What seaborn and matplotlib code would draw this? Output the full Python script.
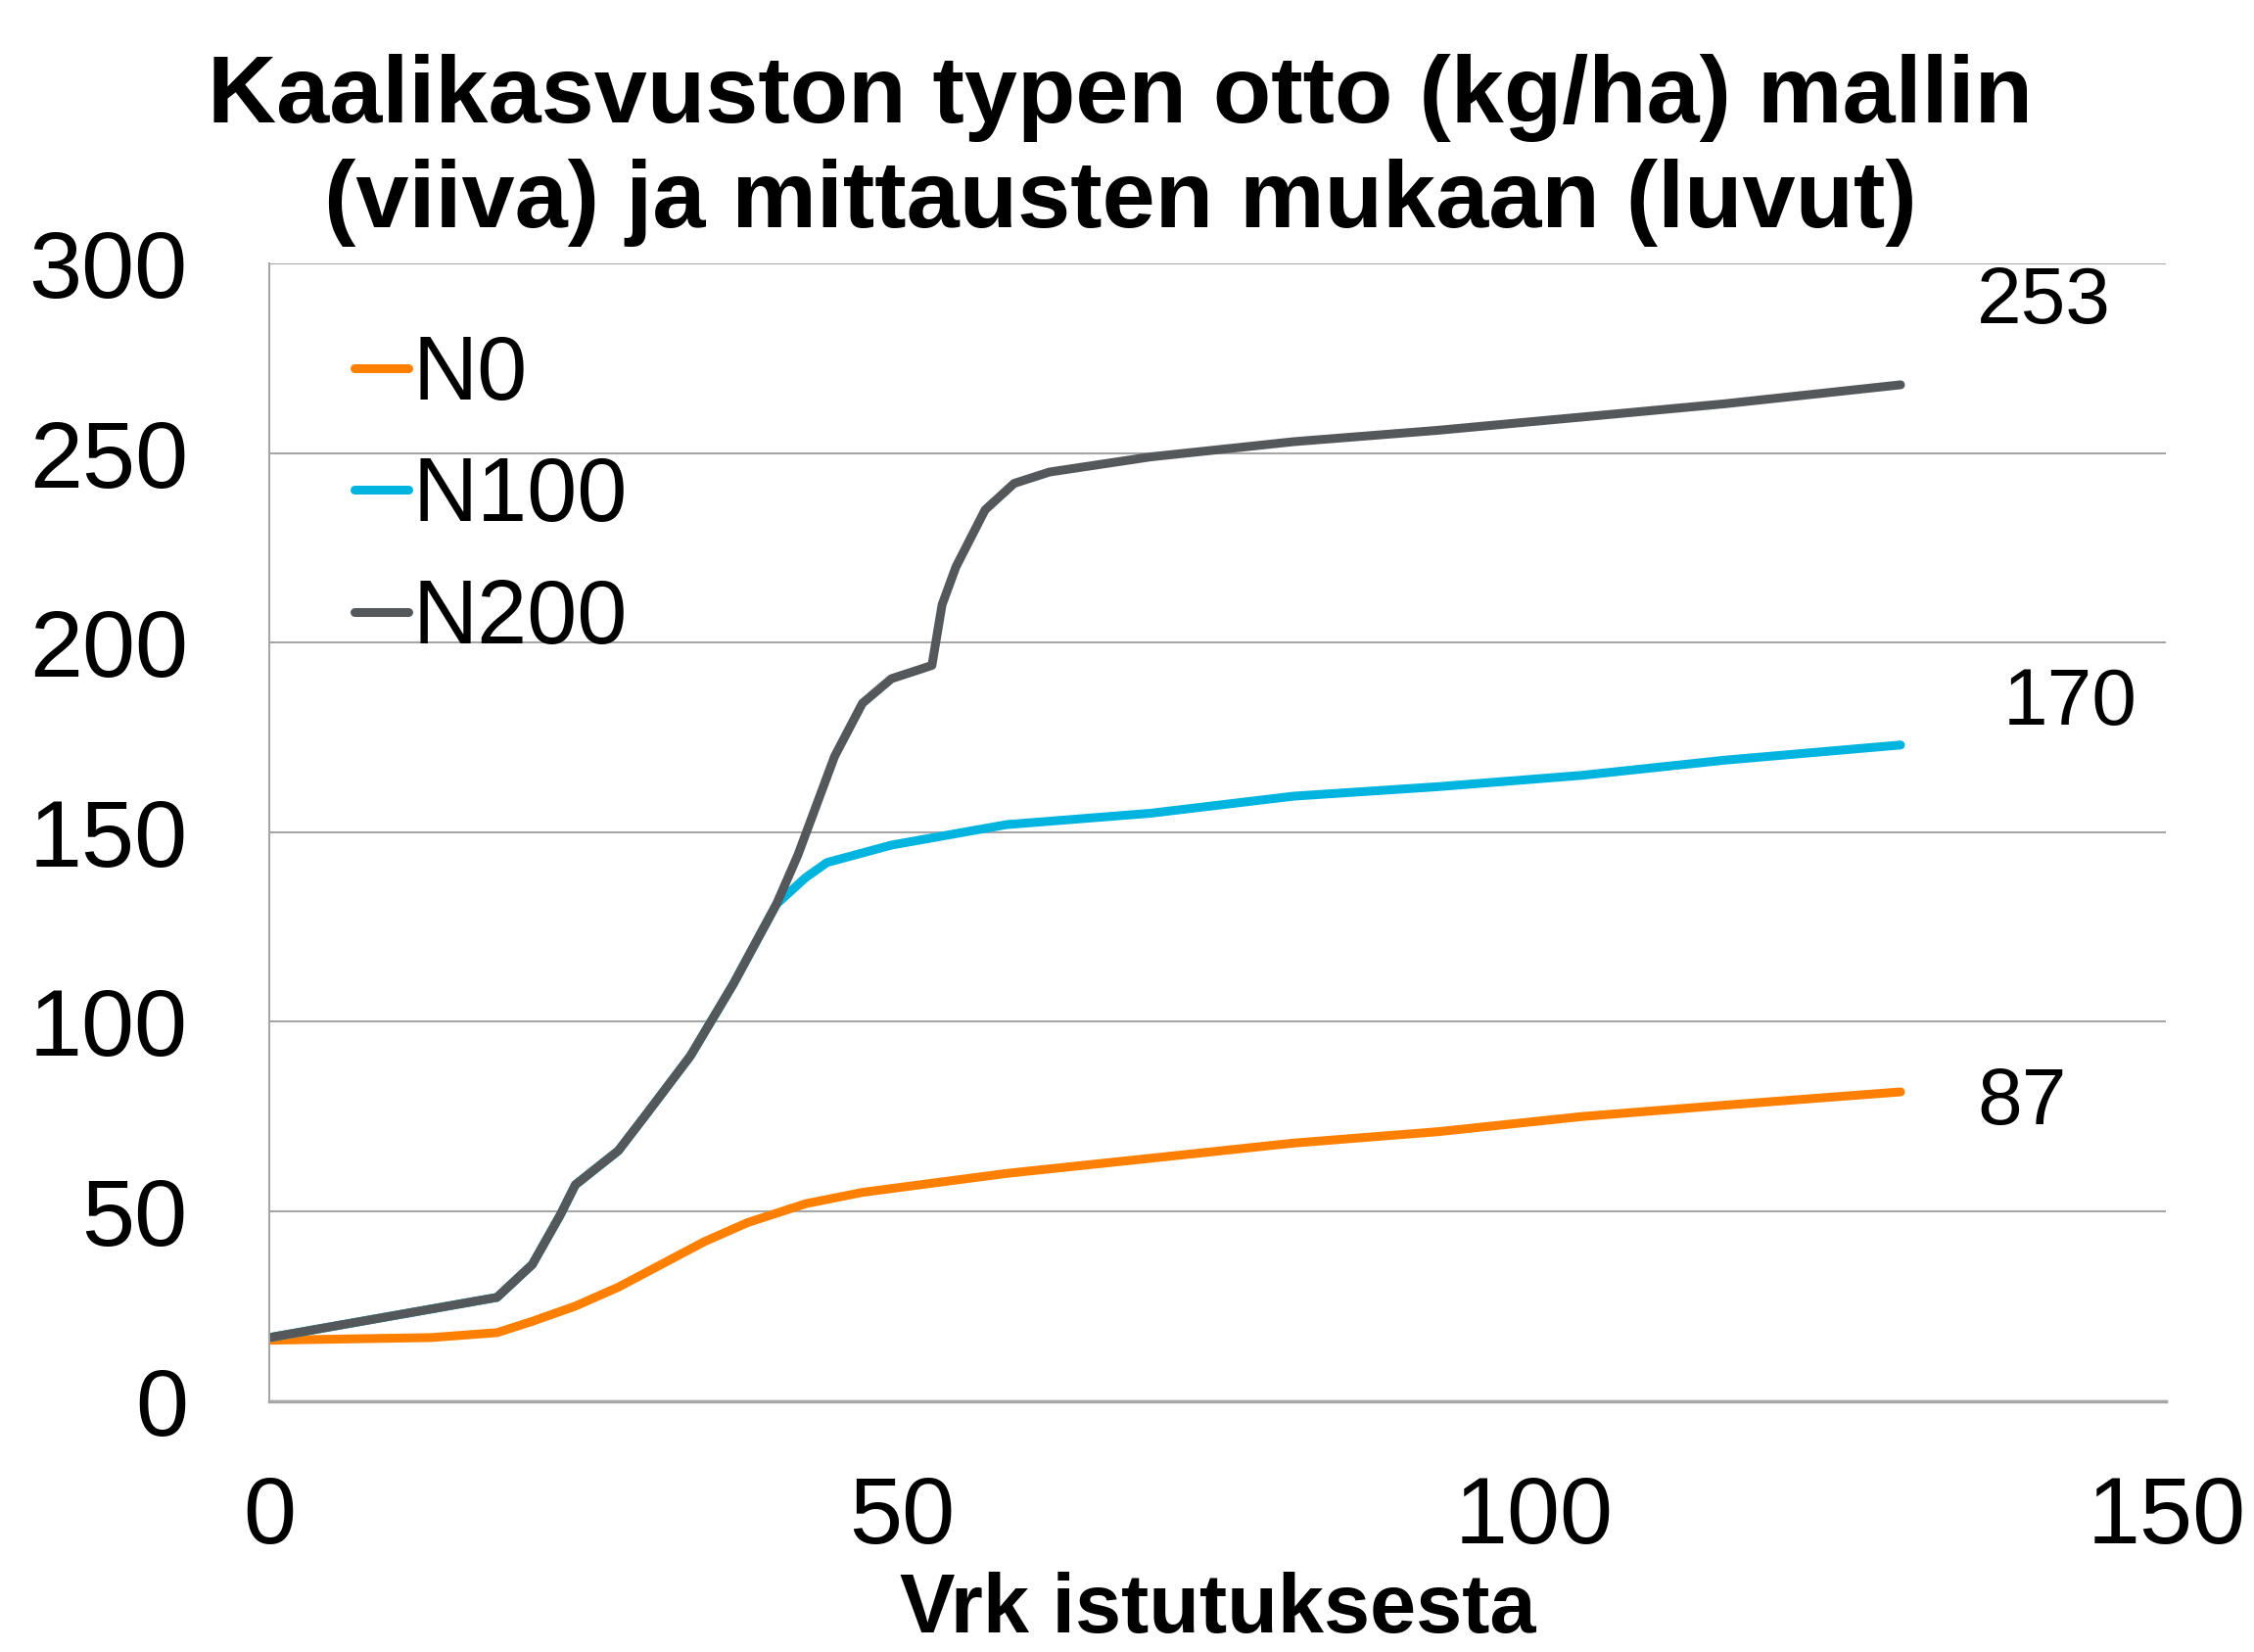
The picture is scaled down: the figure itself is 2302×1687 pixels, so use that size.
import matplotlib
matplotlib.use("Agg")
import matplotlib.pyplot as plt
import seaborn as sns
import pandas as pd

# values (days after planting, N uptake kg/ha)
days_n0 = [0, 12.8, 18, 20.8, 24.2, 27.6, 31, 34.4, 37.8, 42.4, 46.9, 58.3, 69.7, 81, 92.4, 103.8, 115.1, 129]
n0 = [16, 16.7, 18, 21, 25, 30, 36, 42, 47, 52, 55, 60, 64, 68, 71, 75, 78, 81.5]

days_n100 = [0, 18, 20.8, 23, 24.2, 27.6, 29.9, 33.3, 36.7, 40.1, 42.4, 44.1, 49.2, 58.3, 69.7, 81, 92.4, 103.8, 115.1, 129]
n100 = [16.7, 27.3, 36, 49, 57, 66, 76, 91, 110, 131, 138, 142, 146.6, 152, 155, 159.5, 162, 165, 169, 173]

days_n200 = [0, 18, 20.8, 23, 24.2, 27.6, 29.9, 33.3, 36.7, 40.1, 41.8, 44.7, 46.9, 49.2, 51.5, 52.4, 53.2, 54.3, 56.6, 58.9, 61.7, 69.7, 81, 92.4, 103.8, 115.1, 129]
n200 = [16.7, 27.3, 36, 49, 57, 66, 76, 91, 110, 131, 144, 170, 184, 190.5, 193, 194, 210, 220, 235, 242, 245, 249, 253, 256, 259.5, 263, 268]

series = ["N0", "N100", "N200"]
colors = ["#FF8000", "#00B4E0", "#54585A"]
measured = ["253", "170", "87"]
measured_pos = [(140.3, 289.8), (142.4, 183.7), (138.6, 78.4)]

df = pd.concat([
    pd.DataFrame({"day": days_n0, "N": n0, "series": "N0"}),
    pd.DataFrame({"day": days_n100, "N": n100, "series": "N100"}),
    pd.DataFrame({"day": days_n200, "N": n200, "series": "N200"}),
])

sns.set_style("white")
plt.rcParams["font.family"] = ["Liberation Sans", "DejaVu Sans"]
plt.rcParams["text.color"] = "black"
plt.rcParams["xtick.color"] = "black"
plt.rcParams["ytick.color"] = "black"
plt.rcParams["axes.labelcolor"] = "black"

fig = plt.figure(figsize=(23.02, 16.87), dpi=100)
ax = fig.add_axes([0.1195, 0.152, 0.8415, 0.6885])

sns.lineplot(data=df, x="day", y="N", hue="series", hue_order=series,
             palette=dict(zip(series, colors)), ax=ax,
             estimator=None, sort=False)
for ln in ax.lines:
    ln.set_linewidth(6.5)
    ln.set_solid_capstyle("round")
    ln.set_solid_joinstyle("round")

ax.set_xlim(0, 150)
ax.set_ylim(0, 300)
ax.set_xticks([0, 50, 100, 150])
ax.set_yticks(range(0, 301, 50))
ax.grid(axis="y", color="#A6A6A6", linewidth=1.5)
ax.set_axisbelow(True)
for s in ["top", "right"]:
    ax.spines[s].set_visible(False)
ax.spines["left"].set_color("#A6A6A6")
ax.spines["left"].set_linewidth(1.5)
ax.spines["bottom"].set_color("#A6A6A6")
ax.spines["bottom"].set_linewidth(2.5)
ax.tick_params(axis="y", length=0, pad=60, labelsize=70)
ax.tick_params(axis="x", length=0, pad=54, labelsize=70)

ax.set_xlabel("Vrk istutuksesta", fontsize=61, fontweight="bold", labelpad=7)
ax.set_ylabel("")

for txt, (x, y) in zip(measured, measured_pos):
    ax.text(x, y, txt, fontsize=59, ha="center", va="center")

leg = ax.legend(loc="upper left", bbox_to_anchor=(0.026, 0.97), frameon=False,
                fontsize=66, handlelength=0.6, handletextpad=0.05, labelspacing=0.42,
                borderaxespad=0)
for h in leg.get_lines():
    h.set_linewidth(6.5)
    h.set_solid_capstyle("round")

fig.text(0.497, 0.909, "Kaalikasvuston typen otto (kg/ha) mallin\n(viiva) ja mittausten mukaan (luvut)",
         ha="center", va="center", fontsize=70, fontweight="bold", linespacing=1.25)

fig.savefig("out.png", dpi=100)
